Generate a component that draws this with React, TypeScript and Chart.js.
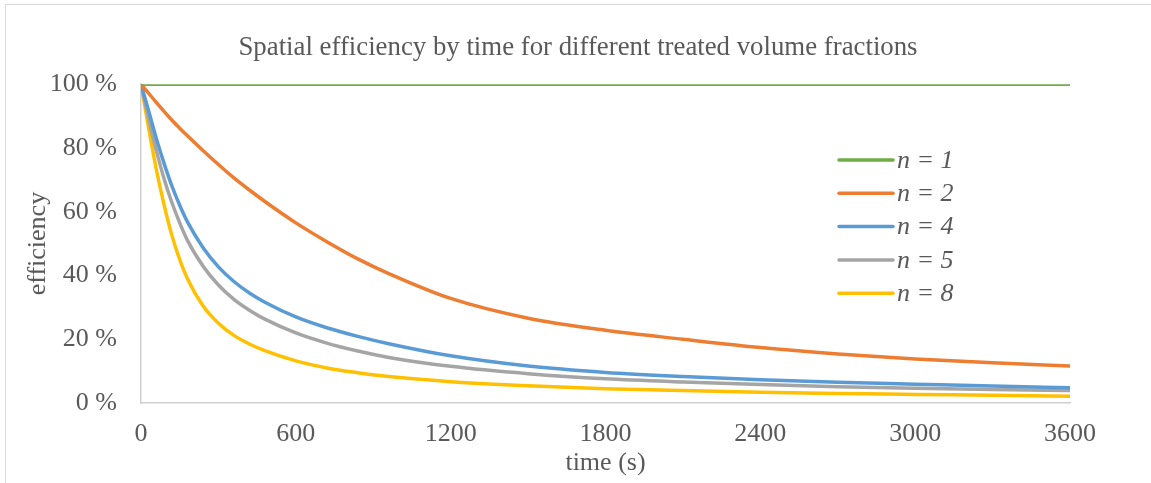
import React, { useEffect, useRef } from "react";
import { Chart, registerables } from "chart.js";

Chart.register(...registerables);

const TIMES = [0, 30, 60, 90, 120, 150, 180, 240, 300, 360, 420, 480, 600, 720, 840, 960, 1200, 1500, 1800, 2100, 2400, 2700, 3000, 3300, 3600];
const N1 = [100, 100, 100, 100, 100, 100, 100, 100, 100, 100, 100, 100, 100, 100, 100, 100, 100, 100, 100, 100, 100, 100, 100, 100, 100];
const N2 = [100, 97.1, 94.2, 91.4, 88.7, 86.2, 83.8, 79.2, 74.8, 70.6, 66.8, 63.2, 56.5, 50.6, 45.2, 40.6, 32.8, 26.6, 22.8, 20, 17.4, 15.4, 13.8, 12.6, 11.6];
const N4 = [100, 91.5, 82.8, 75, 68, 62, 56.8, 48.8, 42.7, 38.1, 34.5, 31.6, 27, 23.6, 20.9, 18.6, 14.8, 11.6, 9.6, 8.3, 7.3, 6.5, 5.9, 5.3, 4.8];
const N5 = [100, 89, 79, 70.2, 62.8, 56.5, 51, 43, 37, 32.5, 29.1, 26.3, 22, 18.8, 16.3, 14.3, 11.5, 9.2, 7.6, 6.6, 5.8, 5.1, 4.6, 4.2, 3.9];
const N8 = [100, 86, 73, 62, 52.5, 45, 39, 30.5, 25, 21.2, 18.5, 16.4, 13.2, 11, 9.5, 8.3, 6.7, 5.4, 4.5, 3.9, 3.4, 3.0, 2.7, 2.4, 2.1];

const SERIES_LABELS = ["n = 1", "n = 2", "n = 4", "n = 5", "n = 8"];
const SERIES_VALUES = [N1, N2, N4, N5, N8];
const SERIES_COLORS = ["#70AD47", "#ED7D31", "#5B9BD5", "#A5A5A5", "#FFC000"];

const X_TICK_STEP = 600;
const X_MAX = 3600;
const Y_TICK_STEP = 20;
const Y_MAX = 100;

const TITLE = "Spatial efficiency by time for different treated volume fractions";
const X_TITLE = "time (s)";
const Y_TITLE = "efficiency";

const FONT_FAMILY = "'Liberation Serif', 'Times New Roman', Times, serif";
const TEXT_COLOR = "#595959";
const AXIS_COLOR = "#d0d0d0";

const titleCenter = {
  id: "titleCenter",
  afterLayout(chart: any) {
    if (chart.titleBlock) {
      chart.titleBlock.left = 5;
      chart.titleBlock.right = 1151;
    }
  },
};

const insideLegend = {
  id: "insideLegend",
  afterDraw(chart: any) {
    const ctx = chart.ctx;
    const x0 = 839;
    const lineLen = 54;
    const y0 = 160;
    const step = 33.3;
    ctx.save();
    chart.data.datasets.forEach((ds: any, i: number) => {
      const y = y0 + i * step;
      ctx.strokeStyle = ds.borderColor;
      ctx.lineWidth = 3.5;
      ctx.lineCap = "round";
      ctx.beginPath();
      ctx.moveTo(x0, y);
      ctx.lineTo(x0 + lineLen, y);
      ctx.stroke();
      ctx.fillStyle = TEXT_COLOR;
      ctx.font = `italic 26px ${FONT_FAMILY}`;
      ctx.textBaseline = "middle";
      ctx.textAlign = "left";
      ctx.fillText(ds.label, x0 + lineLen + 4, y + 1);
    });
    ctx.restore();
  },
};

export default function App() {
  const ref = useRef<HTMLCanvasElement>(null);

  useEffect(() => {
    if (!ref.current) return;
    const datasets = SERIES_LABELS.map((label, i) => ({
      label,
      data: TIMES.map((t, j) => ({ x: t, y: SERIES_VALUES[i][j] })),
      borderColor: SERIES_COLORS[i],
      backgroundColor: SERIES_COLORS[i],
      borderWidth: 3.5,
      pointRadius: 0,
      cubicInterpolationMode: "monotone" as const,
      borderCapStyle: "round" as const,
      borderJoinStyle: "round" as const,
    }));

    const chart = new Chart(ref.current, {
      type: "line",
      data: { datasets },
      plugins: [titleCenter, insideLegend],
      options: {
        animation: false,
        responsive: false,
        layout: { padding: { left: 0, right: 81, top: 0, bottom: 0 } },
        plugins: {
          legend: { display: false },
          tooltip: { enabled: false },
          title: {
            display: true,
            text: TITLE,
            color: TEXT_COLOR,
            font: { family: FONT_FAMILY, size: 26.8, weight: "normal", lineHeight: 1.2 },
            padding: { top: 32, bottom: 20 },
          },
        },
        scales: {
          x: {
            type: "linear",
            min: 0,
            max: X_MAX,
            grid: { display: false, drawTicks: false },
            border: { display: true, color: AXIS_COLOR, width: 1.5 },
            ticks: {
              stepSize: X_TICK_STEP,
              color: TEXT_COLOR,
              padding: 16,
              maxRotation: 0,
              font: { family: FONT_FAMILY, size: 26, lineHeight: 1.2 },
              callback: (v: any) => String(v),
            },
            title: {
              display: true,
              text: X_TITLE,
              color: TEXT_COLOR,
              font: { family: FONT_FAMILY, size: 26, lineHeight: 1.2 },
              padding: { top: 0, bottom: 4 },
            },
            afterFit(axis: any) {
              axis.height = 80;
            },
          },
          y: {
            min: 0,
            max: Y_MAX,
            grid: { display: false, drawTicks: false },
            border: { display: true, color: AXIS_COLOR, width: 1.5 },
            ticks: {
              stepSize: Y_TICK_STEP,
              color: TEXT_COLOR,
              padding: 24,
              font: { family: FONT_FAMILY, size: 26, lineHeight: 1.2 },
              callback: (v: any) => `${v} %`,
            },
            title: {
              display: true,
              text: Y_TITLE,
              color: TEXT_COLOR,
              font: { family: FONT_FAMILY, size: 26, lineHeight: 1.2 },
              padding: { top: 23, bottom: 0 },
            },
            afterFit(axis: any) {
              axis.width = 141;
            },
          },
        },
      },
    });
    return () => chart.destroy();
  }, []);

  return (
    <div
      style={{
        position: "fixed",
        left: 0,
        top: 0,
        width: 1151,
        height: 483,
        overflow: "hidden",
        background: "#ffffff",
      }}
    >
      <div
        style={{
          position: "absolute",
          left: 5,
          top: 4,
          width: 1200,
          height: 600,
          borderTop: "1.5px solid #d9d9d9",
          borderLeft: "1.5px solid #d9d9d9",
        }}
      />
      <canvas ref={ref} width={1151} height={483} style={{ position: "absolute", left: 0, top: 0 }} />
    </div>
  );
}
